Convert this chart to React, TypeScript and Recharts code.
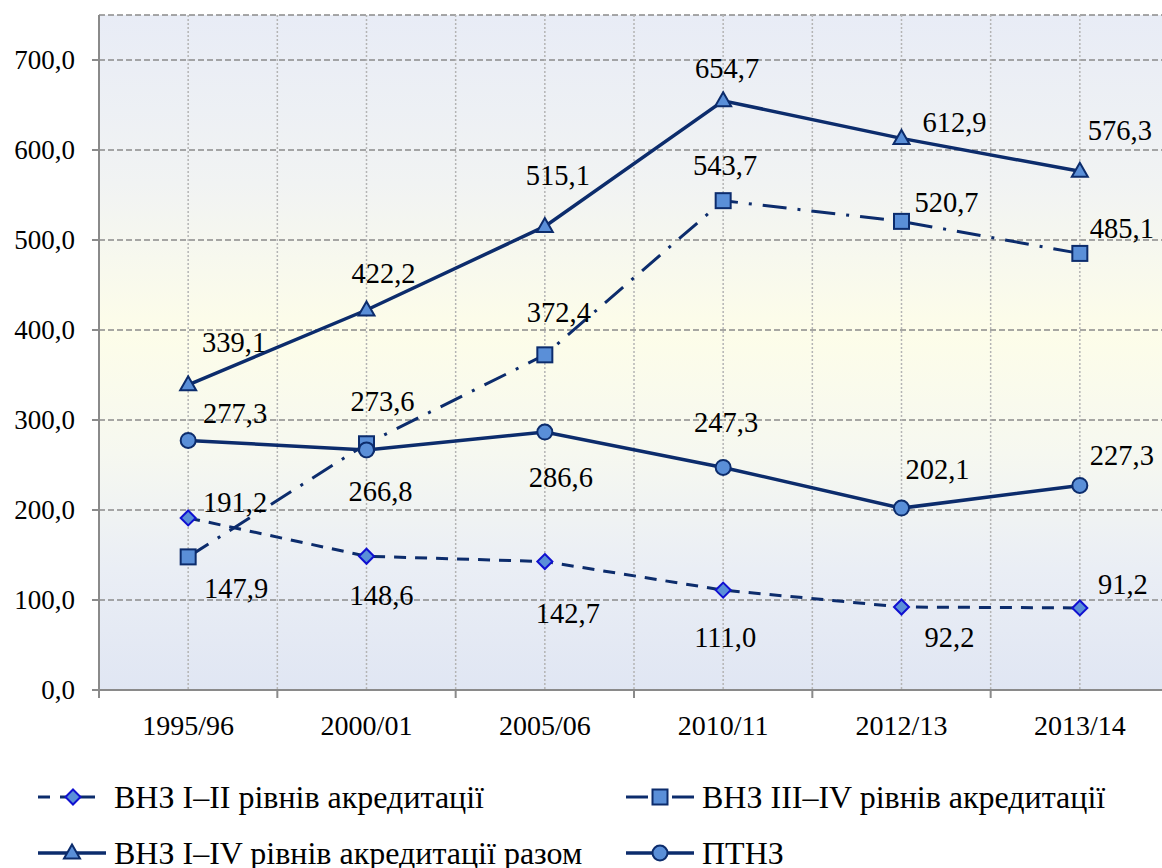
import React from 'react';
import { LineChart, Line, XAxis, YAxis, CartesianGrid, LabelList } from 'recharts';

const categories = ['1995/96', '2000/01', '2005/06', '2010/11', '2012/13', '2013/14'];
const vnz12 = [191.2, 148.6, 142.7, 111.0, 92.2, 91.2];
const vnz34 = [147.9, 273.6, 372.4, 543.7, 520.7, 485.1];
const vnzTotal = [339.1, 422.2, 515.1, 654.7, 612.9, 576.3];
const ptnz = [277.3, 266.8, 286.6, 247.3, 202.1, 227.3];
const yTicks = [0, 100, 200, 300, 400, 500, 600, 700];
const names = {
  vnz12: 'ВНЗ І–ІІ рівнів акредитації',
  vnz34: 'ВНЗ ІІІ–IV рівнів акредитації',
  vnzTotal: 'ВНЗ І–IV рівнів акредитації разом',
  ptnz: 'ПТНЗ',
};

// data label offsets from each point (dx, dy)
const off12 = [[47, -15], [15, 39], [23, 52], [2, 47], [48, 30], [43, -23]];
const off34 = [[48, 32], [16, -42], [14, -42], [2, -35], [45, -19], [42, -25]];
const offTot = [[46, -42], [17, -37], [13, -51], [4, -32], [53, -16], [40, -41]];
const offPt = [[47, -27], [14, 42], [16, 45], [3, -45], [36, -39], [42, -30]];

const data = categories.map((c, i) => ({
  cat: c,
  vnz12: vnz12[i],
  vnz34: vnz34[i],
  vnzTotal: vnzTotal[i],
  ptnz: ptnz[i],
}));

const FONT = 'Liberation Serif';
const NAVY = '#0c2c6c';
const MFILL = '#5a8fd8';
const GRID = '#8a8a8a';

const CHART_W = 1180;
const CHART_H = 760;
const MARGIN = { top: 15, right: 11, bottom: 0, left: 0 };
const YAXIS_W = 99;
const PLOT_W = CHART_W - MARGIN.left - MARGIN.right - YAXIS_W;
const HALF_BAND = PLOT_W / categories.length / 2;

const fmt = (v: number) => v.toFixed(1).replace('.', ',');

const makeLabel = (offs: number[][]) => (props: any) => {
  const { x, y, value, index } = props;
  const o = offs[index] || [0, -30];
  return (
    <text x={x + o[0]} y={y + o[1]} textAnchor="middle" dominantBaseline="central"
      style={{ fontFamily: FONT, fontSize: 28.5 }} fill="#000">{fmt(Number(value))}</text>
  );
};

const Diamond = (p: any) => {
  const { cx, cy } = p;
  if (cx == null || cy == null) return null;
  const r = 7.5;
  return <path key={`d${p.index}`} d={`M${cx},${cy - r}L${cx + r},${cy}L${cx},${cy + r}L${cx - r},${cy}Z`}
    fill={MFILL} stroke="#1010d0" strokeWidth={2} />;
};
const Square = (p: any) => {
  const { cx, cy } = p;
  if (cx == null || cy == null) return null;
  const s = 7.5;
  return <rect key={`s${p.index}`} x={cx - s} y={cy - s} width={2 * s} height={2 * s}
    fill={MFILL} stroke={NAVY} strokeWidth={2} />;
};
const Triangle = (p: any) => {
  const { cx, cy } = p;
  if (cx == null || cy == null) return null;
  return <path key={`t${p.index}`} d={`M${cx},${cy - 8.5}L${cx + 8},${cy + 5.5}L${cx - 8},${cy + 5.5}Z`}
    fill={MFILL} stroke={NAVY} strokeWidth={2} strokeLinejoin="miter" />;
};
const Circle = (p: any) => {
  const { cx, cy } = p;
  if (cx == null || cy == null) return null;
  return <circle key={`c${p.index}`} cx={cx} cy={cy} r={7.5} fill={MFILL} stroke={NAVY} strokeWidth={2} />;
};

const XTick = (props: any) => {
  const { x, y, payload, index } = props;
  return (
    <g>
      <line x1={x - HALF_BAND} x2={x - HALF_BAND} y1={y - 8} y2={y} stroke={GRID} strokeWidth={2} />
      {index === categories.length - 1 ? (
        <line x1={x + HALF_BAND} x2={x + HALF_BAND} y1={y - 8} y2={y} stroke={GRID} strokeWidth={2} />
      ) : null}
      <text x={x} y={y + 27} textAnchor="middle" dominantBaseline="central"
        style={{ fontFamily: FONT, fontSize: 28 }} fill="#000">{payload.value}</text>
    </g>
  );
};

const YTick = (props: any) => {
  const { x, y, payload } = props;
  return (
    <text x={x} y={y} textAnchor="end" dominantBaseline="central"
      style={{ fontFamily: FONT, fontSize: 27 }} fill="#000">{fmt(Number(payload.value))}</text>
  );
};

const vGen = (args: any) => {
  const { offset } = args;
  const out: number[] = [];
  for (let i = 1; i <= categories.length * 2; i++) out.push(offset.left + (i * offset.width) / (categories.length * 2));
  return out;
};

const LegendIcon = ({ kind }: { kind: string }) => {
  const y = 15;
  let line: any = null;
  let marker: any = null;
  if (kind === 'vnz12') {
    line = (
      <g stroke={NAVY} strokeWidth={3}>
        <line x1={2} x2={14} y1={y} y2={y} />
        <line x1={24} x2={30} y1={y} y2={y} />
        <line x1={44} x2={59} y1={y} y2={y} />
      </g>
    );
    marker = <Diamond cx={37} cy={y} index={0} />;
  } else if (kind === 'vnz34') {
    line = (
      <g stroke={NAVY} strokeWidth={3}>
        <line x1={2} x2={24} y1={y} y2={y} />
        <line x1={48} x2={70} y1={y} y2={y} />
      </g>
    );
    marker = <Square cx={36} cy={y} index={0} />;
  } else if (kind === 'vnzTotal') {
    line = <line x1={2} x2={70} y1={y} y2={y} stroke={NAVY} strokeWidth={3.5} />;
    marker = <Triangle cx={36} cy={y} index={0} />;
  } else {
    line = <line x1={2} x2={70} y1={y} y2={y} stroke={NAVY} strokeWidth={3.5} />;
    marker = <Circle cx={36} cy={y} index={0} />;
  }
  return (
    <svg width={72} height={30} style={{ display: 'block' }}>
      {line}
      {marker}
    </svg>
  );
};

const LegendItem = ({ kind, left, top }: { kind: string; left: number; top: number }) => (
  <div style={{ position: 'absolute', left, top: top - 20, height: 40, display: 'flex', alignItems: 'center', whiteSpace: 'nowrap' }}>
    <LegendIcon kind={kind} />
    <span style={{ marginLeft: 6, fontFamily: FONT, fontSize: 32, color: '#000', lineHeight: '40px' }}>
      {(names as any)[kind]}
    </span>
  </div>
);

export default function App() {
  return (
    <div style={{ position: 'absolute', left: 0, top: 0, width: 1162, height: 868, overflow: 'hidden', background: '#fff', fontFamily: FONT }}>
      <LineChart width={CHART_W} height={CHART_H} data={data} margin={MARGIN}>
        <defs>
          <linearGradient id="bgGrad" x1="0" y1="0" x2="0" y2="1">
            <stop offset="0%" stopColor="#e8ecf6" />
            <stop offset="25%" stopColor="#f1f3f3" />
            <stop offset="47%" stopColor="#fdfde9" />
            <stop offset="65%" stopColor="#f6f8f0" />
            <stop offset="82%" stopColor="#eaeef5" />
            <stop offset="100%" stopColor="#e0e6f3" />
          </linearGradient>
        </defs>
        <CartesianGrid vertical={false} stroke={GRID} strokeWidth={1.5} strokeDasharray="6 3" fill="url(#bgGrad)" />
        <CartesianGrid horizontal={false} stroke="#b4b4b4" strokeWidth={1.5} strokeDasharray="2 2"
          verticalCoordinatesGenerator={vGen} />
        <XAxis dataKey="cat" scale="point" padding={{ left: HALF_BAND, right: HALF_BAND }}
          height={CHART_H - MARGIN.top - MARGIN.bottom - 675} axisLine={{ stroke: GRID, strokeWidth: 2 }}
          tickLine={false} tickSize={8} tickMargin={0} tick={<XTick />} interval={0} />
        <YAxis width={YAXIS_W} domain={[0, 750]} ticks={yTicks} allowDataOverflow interval={0}
          axisLine={{ stroke: GRID, strokeWidth: 2 }} tickLine={{ stroke: GRID, strokeWidth: 2 }} tickSize={7} tickMargin={17}
          tick={<YTick />} />
        <Line dataKey="vnz12" name={names.vnz12} stroke={NAVY} strokeWidth={3} strokeDasharray="12 9"
          dot={<Diamond />} activeDot={false} isAnimationActive={false}>
          <LabelList dataKey="vnz12" content={makeLabel(off12)} />
        </Line>
        <Line dataKey="vnz34" name={names.vnz34} stroke={NAVY} strokeWidth={3} strokeDasharray="24 11 3 11"
          dot={<Square />} activeDot={false} isAnimationActive={false}>
          <LabelList dataKey="vnz34" content={makeLabel(off34)} />
        </Line>
        <Line dataKey="vnzTotal" name={names.vnzTotal} stroke={NAVY} strokeWidth={3.5}
          dot={<Triangle />} activeDot={false} isAnimationActive={false}>
          <LabelList dataKey="vnzTotal" content={makeLabel(offTot)} />
        </Line>
        <Line dataKey="ptnz" name={names.ptnz} stroke={NAVY} strokeWidth={3.5}
          dot={<Circle />} activeDot={false} isAnimationActive={false}>
          <LabelList dataKey="ptnz" content={makeLabel(offPt)} />
        </Line>
      </LineChart>
      <LegendItem kind="vnz12" left={36} top={797} />
      <LegendItem kind="vnz34" left={624} top={797} />
      <LegendItem kind="vnzTotal" left={36} top={853} />
      <LegendItem kind="ptnz" left={624} top={853} />
    </div>
  );
}
